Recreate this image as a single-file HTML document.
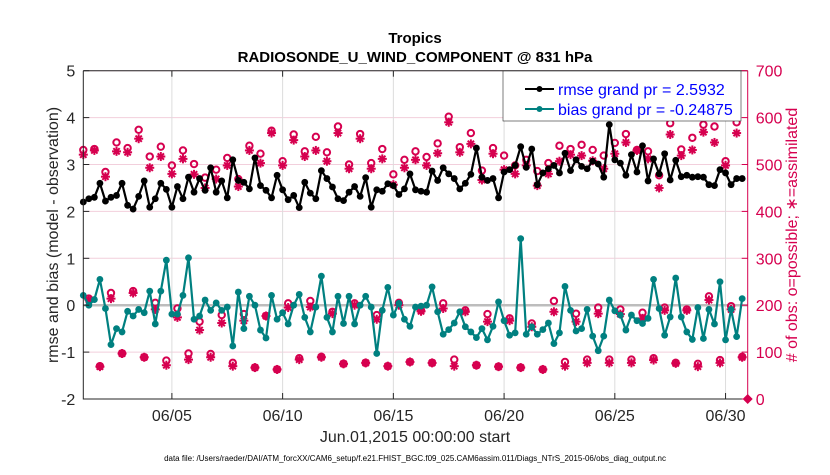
<!DOCTYPE html>
<html><head><meta charset="utf-8"><style>
body{margin:0;background:#fff;}
svg text{font-family:"Liberation Sans",Arial,sans-serif;}
</style></head><body>
<svg id="chart" width="830" height="470" xmlns="http://www.w3.org/2000/svg">
<text x="415" y="43" text-anchor="middle" font-size="15" font-weight="bold" fill="#000">Tropics</text>
<text x="415" y="62" text-anchor="middle" font-size="15" font-weight="bold" fill="#000">RADIOSONDE_U_WIND_COMPONENT @ 831 hPa</text>
<g id="grid"></g>
<g id="marks"></g>
<g id="axes"></g>
<text transform="translate(58,235) rotate(-90)" text-anchor="middle" font-size="16" fill="#262626">rmse and bias (model - observation)</text>
<text transform="translate(797,235) rotate(-90)" text-anchor="middle" font-size="16" fill="#d6004f"># of obs: o=possible; ∗=assimilated</text>
<text x="415" y="442" text-anchor="middle" font-size="16" fill="#262626">Jun.01,2015 00:00:00 start</text>
<text x="415" y="461" text-anchor="middle" font-size="8" fill="#000">data file: /Users/raeder/DAI/ATM_forcXX/CAM6_setup/f.e21.FHIST_BGC.f09_025.CAM6assim.011/Diags_NTrS_2015-06/obs_diag_output.nc</text>
<g>
<rect x="503" y="71" width="238" height="50" fill="#fff" stroke="#262626" stroke-width="0.6"/>
<line x1="525" y1="89" x2="554" y2="89" stroke="#000" stroke-width="2"/><circle cx="539.5" cy="89" r="3" fill="#000"/>
<text x="558" y="95" font-size="16" fill="#0000ff">rmse grand pr = 2.5932</text>
<line x1="525" y1="109" x2="554" y2="109" stroke="#008080" stroke-width="2"/><circle cx="539.5" cy="109" r="3" fill="#008080"/>
<text x="558" y="115" font-size="16" fill="#0000ff">bias grand pr = -0.24875</text>
</g>
</svg>
<script>
const rmse=[2.20,2.27,2.30,2.60,2.22,2.30,2.34,2.60,2.13,2.05,2.32,2.65,2.09,2.27,2.60,2.47,2.09,2.53,2.27,2.73,2.41,2.70,2.45,2.93,2.41,2.65,2.29,3.10,2.66,2.62,
2.48,3.14,2.55,2.45,2.29,2.77,2.46,2.25,2.34,2.08,2.62,2.39,2.27,2.87,2.70,2.52,2.27,2.23,2.41,2.53,2.32,2.72,2.09,2.46,2.43,2.59,2.55,2.36,2.48,2.80,
2.46,2.43,2.41,2.86,2.66,2.93,2.80,2.70,2.48,2.60,2.79,3.35,2.73,2.66,2.70,2.29,2.84,2.89,2.98,3.38,2.94,3.33,2.57,2.82,2.91,2.98,2.82,3.24,
2.87,3.10,2.96,2.91,3.07,3.01,2.73,3.85,3.10,3.03,2.77,3.21,2.84,3.40,2.65,3.12,2.80,3.23,2.67,3.09,2.74,2.77,2.73,2.74,2.73,2.57,2.55,2.89,2.82,2.57,2.70,2.70];
const bias=[0.21,0,0.12,0.55,-0.07,-0.84,-0.50,-0.57,-0.13,-0.23,-0.09,-0.16,0.30,-0.40,0.30,0.96,-0.19,-0.19,0.21,1.01,-0.30,-0.23,0.11,-0.11,0.05,-0.11,-0.04,-0.87,0.28,-0.50,
0.19,0,-0.53,-0.70,0.21,-0.30,-0.16,-0.40,0,0.23,-0.26,-0.57,-0.04,0.62,-0.26,-0.57,0.19,-0.39,0.19,-0.40,0,0.19,-0.04,-1.03,-0.11,0.38,-0.21,0.04,-0.30,-0.45,
-0.04,-0.02,0,0.39,-0.14,-0.62,-0.52,-0.38,-0.14,-0.46,-0.57,-0.69,-0.50,-0.74,-0.45,0.07,-0.33,-0.64,-0.59,1.42,-0.62,-0.46,-0.62,-0.52,-0.38,-0.82,-0.59,0.40,
-0.11,-0.55,-0.50,-0.09,-0.66,-0.97,-0.66,0.11,-0.12,-0.21,-0.53,-0.21,-0.33,-0.39,-0.28,0.55,-0.07,-0.64,-0.25,0.58,-0.25,-0.57,-0.73,-0.05,-0.71,-0.09,-0.40,0.50,-0.74,-0.09,-0.67,0.14];
const nPossible=[531,214,533,70,484,226,547,97,535,230,574,89,517,205,538,82,498,193,530,97,501,165,472,96,489,179,514,77,469,181,
540,67,523,177,572,63,507,204,564,87,528,209,559,90,526,186,581,75,500,204,565,77,503,179,533,70,479,205,510,79,
528,189,516,77,545,204,602,84,537,189,567,72,487,181,535,69,519,172,498,67,510,161,486,63,503,209,540,79,
533,182,542,84,531,195,519,84,546,191,565,84,531,184,528,87,477,195,588,77,532,191,557,75,585,219,581,83,507,198,590,90];
const nAssim=[521,212,530,69,474,214,528,97,526,226,555,89,493,191,517,72,480,174,512,84,479,147,450,89,469,162,498,70,453,167,
530,67,503,177,567,63,498,195,552,84,517,196,530,89,507,182,567,75,491,200,555,77,491,170,512,70,457,200,493,79,
510,187,498,77,524,193,590,70,526,186,544,72,467,165,523,69,489,167,480,67,498,154,455,63,480,186,507,70,
521,165,519,77,508,182,491,77,523,181,547,77,530,172,512,83,450,189,564,76,519,189,531,69,569,211,547,77,498,191,567,89];
const leftTicks=[-2,-1,0,1,2,3,4,5];
const rightTicks=[0,100,200,300,400,500,600,700];
const dateTickDays=[5,10,15,20,25,30];
const dateTickLabels=["06/05","06/10","06/15","06/20","06/25","06/30"];
const firstDay=1, obsPerDay=4;

const X0=83.3,X1=747.7,Y0=70.7,Y1=399;
const D0=1,D1=31;
const xDay=d=>X0+(d-D0)/(D1-D0)*(X1-X0);
const xIdx=i=>xDay(firstDay+i/obsPerDay);
const yL=v=>Y1-(v+2)/7*(Y1-Y0);
const yR=v=>Y1-v/700*(Y1-Y0);
const NS="http://www.w3.org/2000/svg";
function mk(tag,attrs,parent){const e=document.createElementNS(NS,tag);for(const k in attrs)e.setAttribute(k,attrs[k]);parent.appendChild(e);return e;}
const grid=document.getElementById('grid'),marks=document.getElementById('marks'),axes=document.getElementById('axes');
const MAG="#d6004f";
leftTicks.forEach(v=>{const g=mk('line',{x1:X0,x2:X1,y1:yL(v),y2:yL(v),stroke:'#f2cfdc','stroke-width':1},grid);

});
dateTickDays.forEach(d=>{const g=mk('line',{x1:xDay(d),x2:xDay(d),y1:Y0,y2:Y1,stroke:'#dcdcdc','stroke-width':1},grid);

});
const z=mk('line',{x1:X0,x2:X1,y1:yL(0),y2:yL(0),stroke:'#bdbdbd','stroke-width':2.5},grid);


function star(cx,cy,parent){const g=mk('g',{stroke:MAG,'stroke-width':2},parent);


const r=4.5;[[r,0],[0,r],[r*.7,r*.7],[r*.7,-r*.7]].forEach(([dx,dy])=>mk('line',{x1:cx-dx,y1:cy-dy,x2:cx+dx,y2:cy+dy},g));}
nAssim.forEach((v,i)=>{if(v!=null)star(xIdx(i),yR(v),marks);});
nPossible.forEach((v,i)=>{if(v==null)return;const c=mk('circle',{cx:xIdx(i),cy:yR(v),r:3.2,fill:'none',stroke:MAG,'stroke-width':2},marks);

});
function series(vals,color,name){
const p=mk('polyline',{points:vals.map((v,i)=>xIdx(i)+','+yL(v)).join(' '),fill:'none',stroke:color,'stroke-width':2.2,'stroke-linejoin':'round'},marks);


vals.forEach((v,i)=>{const c=mk('circle',{cx:xIdx(i),cy:yL(v),r:3.4,fill:color},marks);

});}
series(rmse,'#000','rmse');
series(bias,'#008080','bias');
const dm=mk('path',{d:`M${X1-5},${Y1} L${X1},${Y1-5} L${X1+5},${Y1} L${X1},${Y1+5}Z`,fill:MAG},marks);


const bl=mk('path',{d:`M${X0},${Y0} L${X0},${Y1} L${X1},${Y1}`,fill:'none',stroke:'#262626','stroke-width':1},axes);


const tl=mk('line',{x1:X0,x2:X1,y1:Y0,y2:Y0,stroke:'#262626','stroke-width':1},axes);


const ra=mk('line',{x1:X1,x2:X1,y1:Y0,y2:Y1,stroke:MAG,'stroke-width':1},axes);


leftTicks.forEach(v=>{mk('line',{x1:X0,x2:X0+6,y1:yL(v),y2:yL(v),stroke:'#262626'},axes);
const t=mk('text',{x:X0-8,y:yL(v)+6,'text-anchor':'end','font-size':16,fill:'#262626'},axes);t.textContent=v;

});
rightTicks.forEach(v=>{mk('line',{x1:X1-6,x2:X1,y1:yR(v),y2:yR(v),stroke:MAG},axes);
const t=mk('text',{x:X1+8,y:yR(v)+6,'font-size':16,fill:MAG},axes);t.textContent=v;

});
dateTickDays.forEach((d,k)=>{mk('line',{x1:xDay(d),x2:xDay(d),y1:Y1,y2:Y1-6,stroke:'#262626'},axes);
mk('line',{x1:xDay(d),x2:xDay(d),y1:Y0,y2:Y0+6,stroke:'#262626'},axes);
const t=mk('text',{x:xDay(d),y:Y1+22,'text-anchor':'middle','font-size':16,fill:'#262626'},axes);t.textContent=dateTickLabels[k];

});
</script>
</body></html>
